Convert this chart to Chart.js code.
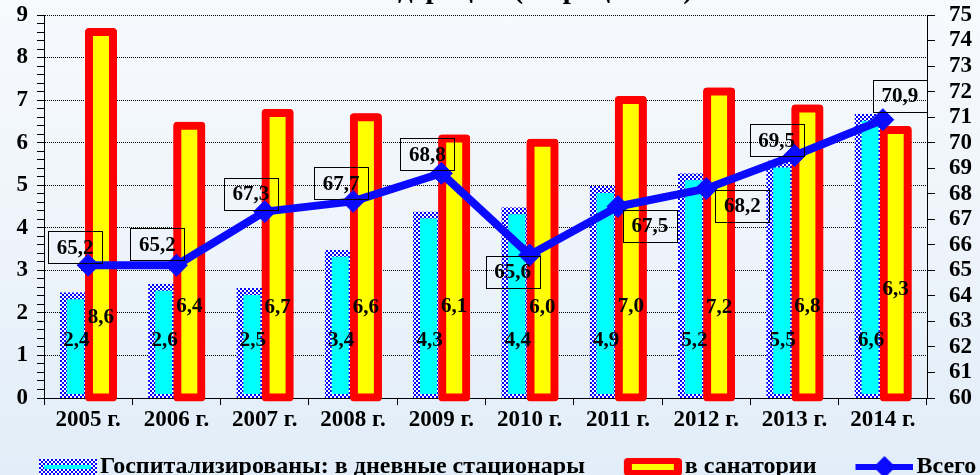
<!DOCTYPE html>
<html>
<head>
<meta charset="utf-8">
<script src="https://cdn.jsdelivr.net/npm/chart.js@4.4.1/dist/chart.umd.min.js"></script>
<style>
html,body{margin:0;padding:0;}
body{width:980px;height:475px;overflow:hidden;background:linear-gradient(to bottom,#f7fafd 0%,#eef4fb 50%,#e1edf8 100%);}
#wrap{position:relative;width:980px;height:475px;overflow:hidden;}
canvas{display:block;}
</style>
</head>
<body>
<div id="wrap"><canvas id="c" width="980" height="489"></canvas></div>
<script>
// ---- data ----
const years = ['2005 г.', '2006 г.', '2007 г.', '2008 г.', '2009 г.', '2010 г.', '2011 г.', '2012 г.', '2013 г.', '2014 г.'];
const dayHospital = [2.4, 2.6, 2.5, 3.4, 4.3, 4.4, 4.9, 5.2, 5.5, 6.6];
const sanatorium = [8.6, 6.4, 6.7, 6.6, 6.1, 6.0, 7.0, 7.2, 6.8, 6.3];
const total = [65.2, 65.2, 67.3, 67.7, 68.8, 65.6, 67.5, 68.2, 69.5, 70.9];
const seriesNames = ['Госпитализированы: в дневные стационары', 'в санатории', 'Всего'];
const titleText = 'по Российской Федерации (в процентах)';

// ---- styling constants (label placement, not data) ----
const hospLabelLevel = 1.36;
const sanLabelLevel = [1.9, 2.15, 2.12, 2.12, 2.15, 2.12, 2.15, 2.12, 2.15, 2.54];
const totalBoxOffset = [[-13,-18],[-19,-21],[-14,-18],[-12,-18],[-14,-19],[-17,17],[32,19],[36,17],[-18,-15],[17,-24]];

const FONT = '"Liberation Serif", "Times New Roman", serif';
Chart.defaults.font.family = FONT;
const fmt = v => v.toFixed(1).replace('.', ',');
const isInt = v => Math.abs(v - Math.round(v)) < 1e-6;

// checker pattern
const pc = document.createElement('canvas'); pc.width = 4; pc.height = 4;
const pg = pc.getContext('2d');
pg.fillStyle = '#ffffff'; pg.fillRect(0,0,4,4);
pg.fillStyle = '#0000ff'; pg.fillRect(0,0,2,2); pg.fillRect(2,2,2,2);
const checker = pg.createPattern(pc, 'repeat');

// legend icons: 106 wide, visual drawn in the right part (x 48..106)
const OX = 48;
function mk(h,fn){const c=document.createElement('canvas');c.width=106;c.height=h;fn(c.getContext('2d'));return c;}
const icon1 = mk(16,g=>{g.fillStyle=g.createPattern(pc,'repeat');g.fillRect(OX,0,58,16);g.fillStyle='#00ffff';g.fillRect(OX+5,6,47,4);});
const icon2 = mk(18,g=>{g.fillStyle='#ff0000';g.beginPath();g.roundRect(OX,0,58,18,4);g.fill();g.fillStyle='#ffff00';g.fillRect(OX+8,6,42,6);});
const icon3 = mk(22,g=>{g.fillStyle='#0a0aff';g.fillRect(OX,8,58,6);g.beginPath();g.moveTo(OX+29,0);g.lineTo(OX+40,11);g.lineTo(OX+29,22);g.lineTo(OX+18,11);g.closePath();g.fill();});
const legendIcons = [icon1, icon2, icon3];

const redrawSanatorium = {
  id: 'redrawSan',
  afterDatasetDraw(chart, args) {
    if (args.index === 0) chart.getDatasetMeta(1).controller.draw();
  }
};

const labelPlugin = {
  id: 'valueLabels',
  afterDatasetsDraw(chart) {
    const ctx = chart.ctx, yL = chart.scales.y;
    ctx.save();
    ctx.font = 'bold 21px ' + FONT;
    ctx.fillStyle = '#000';
    ctx.textAlign = 'center';
    ctx.textBaseline = 'middle';
    chart.getDatasetMeta(0).data.forEach((el, i) => {
      ctx.fillText(fmt(dayHospital[i]), el.x + 1, yL.getPixelForValue(hospLabelLevel));
    });
    chart.getDatasetMeta(1).data.forEach((el, i) => {
      ctx.fillText(fmt(sanatorium[i]), el.x, yL.getPixelForValue(sanLabelLevel[i]));
    });
    ctx.strokeStyle = '#000'; ctx.lineWidth = 1;
    chart.getDatasetMeta(2).data.forEach((el, i) => {
      const cx = el.x + totalBoxOffset[i][0], cy = el.y + totalBoxOffset[i][1];
      ctx.strokeRect(Math.round(cx - 27) + 0.5, Math.round(cy - 16) + 0.5, 54, 32);
      ctx.fillText(fmt(total[i]), cx, cy + 1);
    });
    ctx.restore();
  }
};

const titlePlugin = {
  id: 'clippedTitle',
  afterDraw(chart) {
    const ctx = chart.ctx;
    ctx.save();
    ctx.font = 'bold 29px ' + FONT;
    ctx.fillStyle = '#000';
    ctx.textAlign = 'right';
    ctx.textBaseline = 'alphabetic';
    ctx.fillText(titleText, 693, -2);
    ctx.restore();
  }
};

const tickFont = {family: FONT, size: 23, weight: 'bold'};

new Chart(document.getElementById('c'), {
  type: 'bar',
  data: {
    labels: years,
    datasets: [
      {type: 'bar', label: seriesNames[0], data: dayHospital, yAxisID: 'y', order: 1,
       backgroundColor: '#00ffff', borderColor: checker, borderWidth: 7, borderSkipped: false,
       inflateAmount: 3.5, barPercentage: 0.934, categoryPercentage: 0.582},
      {type: 'bar', label: seriesNames[1], data: sanatorium, yAxisID: 'y', order: 2,
       backgroundColor: '#ffff00', borderColor: '#ff0000', borderWidth: 8, borderSkipped: false,
       borderRadius: 4, inflateAmount: 4, barPercentage: 0.934, categoryPercentage: 0.582},
      {type: 'line', label: seriesNames[2], data: total, yAxisID: 'y1', order: 0,
       borderColor: '#0a0aff', backgroundColor: '#0a0aff', borderWidth: 8, borderJoinStyle: 'round',
       pointStyle: 'rectRot', pointRadius: 11, pointBackgroundColor: '#0a0aff', pointBorderColor: '#0a0aff',
       pointBorderWidth: 1, tension: 0, clip: false}
    ]
  },
  options: {
    responsive: false, animation: false, devicePixelRatio: 1,
    layout: {padding: {top: 15, left: 0, right: 0, bottom: 0}},
    plugins: {
      title: {display: false},
      tooltip: {enabled: false},
      legend: {
        position: 'bottom',
        align: 'start',
        labels: {
          usePointStyle: true, pointStyleWidth: 88, padding: 0, color: '#000',
          font: {family: FONT, size: 24, weight: 'bold'},
          generateLabels(chart) {
            const items = Chart.defaults.plugins.legend.labels.generateLabels(chart);
            items.forEach(it => { it.pointStyle = legendIcons[it.datasetIndex]; it.rotation = 0; });
            return items;
          },
          sort: (a, b) => a.datasetIndex - b.datasetIndex
        }
      }
    },
    scales: {
      x: {
        grid: {display: true, drawOnChartArea: false, tickLength: 7, tickColor: '#000', offset: true},
        border: {color: '#000'},
        ticks: {color: '#000', font: tickFont, padding: 1, maxRotation: 0, autoSkip: false},
        afterFit(s) { s.height = 57; s.paddingLeft = 0; s.paddingRight = 0; }
      },
      y: {
        position: 'left', min: 0, max: 9,
        ticks: {stepSize: 0.2, autoSkip: false, color: '#000', font: tickFont, padding: 9,
                callback: v => isInt(v) ? String(Math.round(v)) : ''},
        grid: {color: c => (c.tick && isInt(c.tick.value)) ? '#000' : 'transparent',
               tickColor: '#000', tickLength: 7, lineWidth: 1},
        border: {color: '#000', dash: [1, 1]},
        afterFit(s) { s.width = 44; s.paddingTop = 0; s.paddingBottom = 0; }
      },
      y1: {
        position: 'right', min: 60, max: 75,
        ticks: {stepSize: 1, autoSkip: false, color: '#000', font: tickFont, padding: 14},
        grid: {drawOnChartArea: false, tickColor: '#000', tickLength: 8},
        border: {color: '#000'},
        afterFit(s) { s.width = 53; s.paddingTop = 0; s.paddingBottom = 0; }
      }
    }
  },
  plugins: [redrawSanatorium, labelPlugin, titlePlugin]
});
</script>
</body>
</html>
